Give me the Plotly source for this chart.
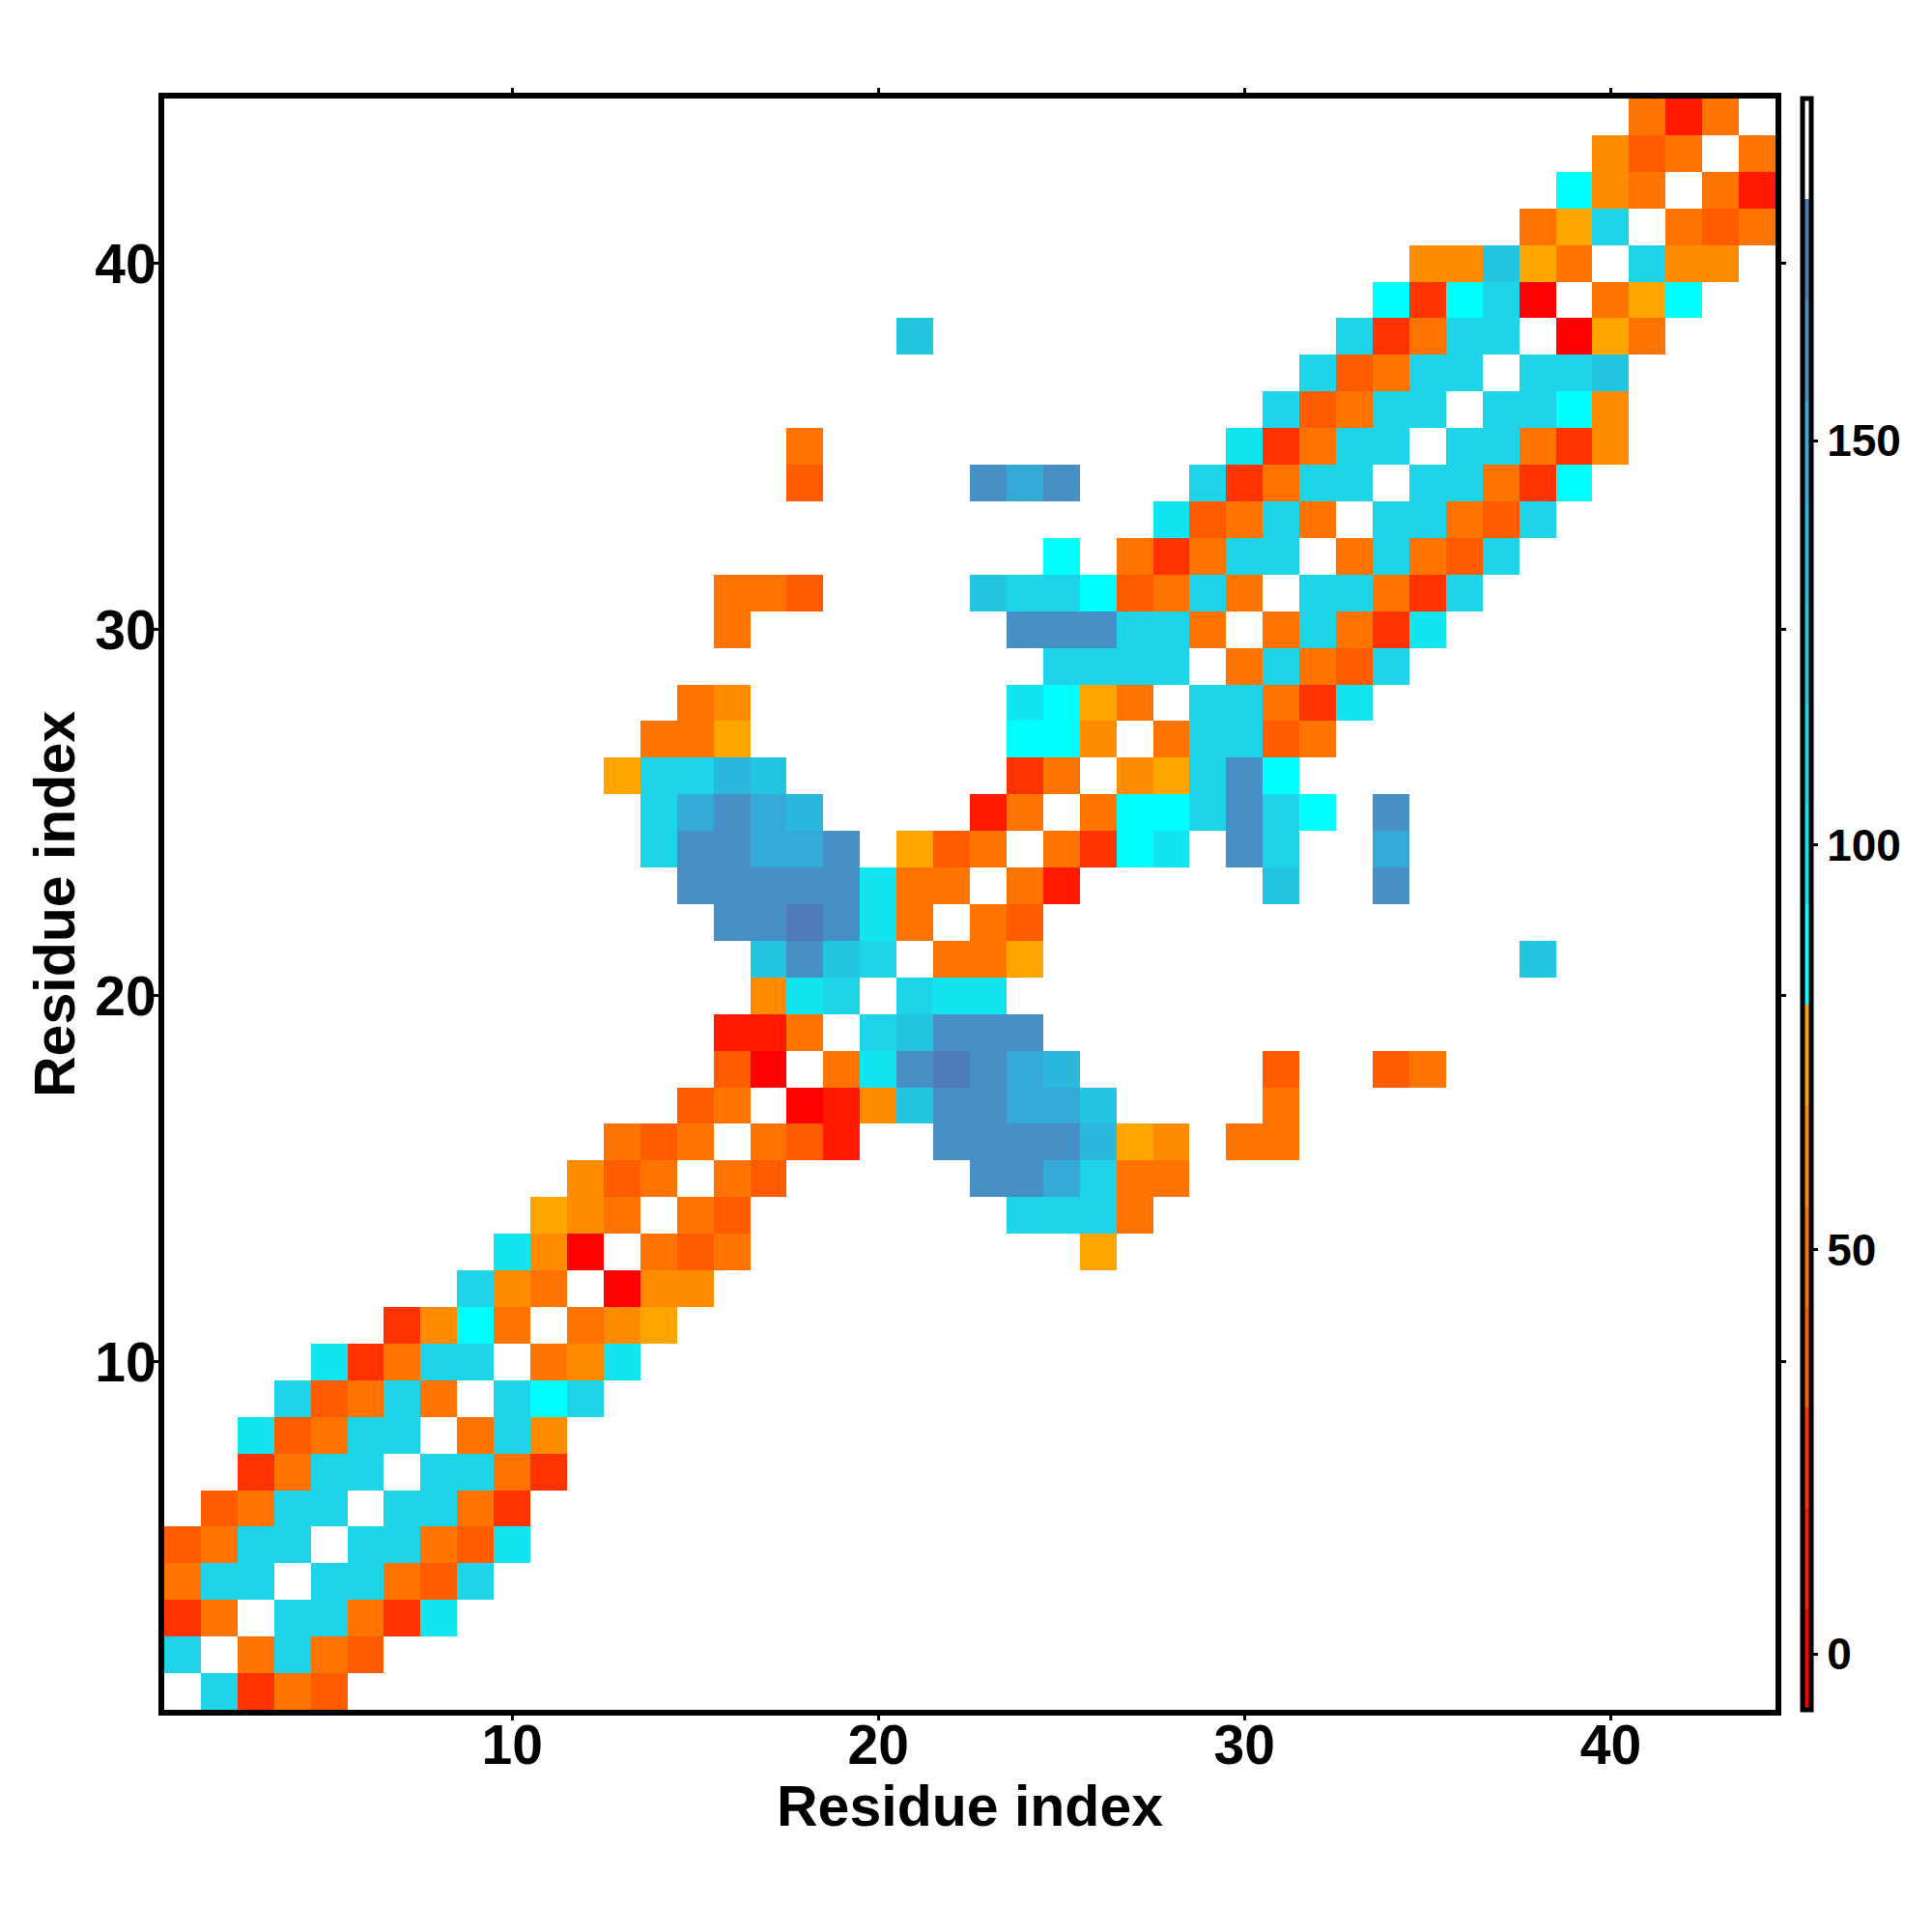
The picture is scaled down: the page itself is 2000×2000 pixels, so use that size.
import numpy as np
import plotly.graph_objects as go

# ---------------- data ----------------
residues = list(range(1, 45))
axis_ticks = [10, 20, 30, 40]
cbar_ticks = [0, 50, 100, 150]

# upper-triangle entries (matrix is symmetric); diagonal / absent pairs are empty
pair_i = [1, 1, 1, 1,
          2, 2, 2, 2,
          3, 3, 3, 3, 3,
          4, 4, 4, 4, 4,
          5, 5, 5, 5, 5,
          6, 6, 6, 6,
          7, 7, 7, 7,
          8, 8, 8,
          9, 9, 9,
          10, 10, 10,
          11, 11, 11,
          12, 12, 12,
          13, 13, 13, 13,
          14, 14, 14, 14, 14, 14,
          15, 15, 15, 15, 15, 15, 15, 15,
          16, 16, 16, 16, 16, 16, 16, 16, 16, 16, 16, 16,
          17, 17, 17, 17, 17, 17, 17, 17, 17, 17,
          18, 18, 18, 18, 18, 18, 18, 18, 18, 18,
          19, 19, 19, 19, 19,
          20, 20, 20,
          21, 21, 21, 21,
          22, 22,
          23, 23, 23, 23,
          24, 24, 24, 24, 24, 24, 24,
          25, 25, 25, 25, 25, 25, 25, 25,
          26, 26, 26, 26, 26,
          27, 27, 27, 27, 27,
          28, 28, 28, 28, 28,
          29, 29, 29, 29, 29,
          30, 30, 30, 30, 30,
          31, 31, 31, 31, 31,
          32, 32, 32, 32, 32,
          33, 33, 33, 33, 33,
          34, 34, 34, 34, 34,
          35, 35, 35, 35, 35,
          36, 36, 36, 36,
          37, 37, 37,
          38, 38, 38,
          39, 39, 39,
          40, 40, 40,
          41, 41, 41,
          42, 42,
          43]
pair_j = [2, 3, 4, 5,
          3, 4, 5, 6,
          4, 5, 6, 7, 8,
          5, 6, 7, 8, 9,
          6, 7, 8, 9, 10,
          7, 8, 9, 10,
          8, 9, 10, 11,
          9, 10, 11,
          10, 11, 12,
          11, 12, 13,
          12, 13, 14,
          13, 14, 15,
          14, 15, 16, 26,
          15, 16, 24, 25, 26, 27,
          16, 17, 23, 24, 25, 26, 27, 28,
          17, 18, 19, 22, 23, 24, 25, 26, 27, 28, 30, 31,
          18, 19, 20, 21, 22, 23, 24, 25, 26, 31,
          19, 20, 21, 22, 23, 24, 25, 31, 34, 35,
          20, 21, 22, 23, 24,
          21, 22, 23,
          22, 23, 24, 38,
          23, 24,
          24, 25, 31, 34,
          25, 26, 27, 28, 30, 31, 34,
          26, 27, 28, 29, 30, 31, 32, 34,
          27, 28, 29, 30, 31,
          28, 29, 30, 31, 32,
          29, 30, 31, 32, 33,
          30, 31, 32, 33, 34,
          31, 32, 33, 34, 35,
          32, 33, 34, 35, 36,
          33, 34, 35, 36, 37,
          34, 35, 36, 37, 38,
          35, 36, 37, 38, 39,
          36, 37, 38, 39, 40,
          37, 38, 39, 40,
          38, 39, 40,
          39, 40, 41,
          40, 41, 42,
          41, 42, 43,
          42, 43, 44,
          43, 44,
          44]
pair_val = [111, 24, 49, 37,
            49, 111, 49, 37,
            111, 111, 49, 24, 99,
            111, 111, 49, 37, 111,
            111, 111, 49, 37, 99,
            111, 111, 49, 24,
            111, 111, 49, 24,
            49, 111, 62,
            111, 87, 111,
            49, 62, 99,
            49, 62, 74,
            0, 62, 62,
            49, 37, 49, 74,
            49, 37, 111, 111, 111, 49,
            49, 37, 161, 161, 149, 111, 49, 49,
            49, 37, 12, 161, 161, 161, 161, 136, 74, 62, 49, 49,
            0, 12, 62, 124, 161, 161, 149, 149, 124, 49,
            49, 99, 161, 174, 161, 149, 136, 37, 37, 49,
            111, 124, 161, 161, 161,
            111, 99, 99,
            49, 49, 74, 124,
            49, 37,
            49, 12, 124, 161,
            49, 24, 87, 99, 161, 111, 149,
            49, 87, 87, 111, 161, 111, 87, 161,
            62, 74, 111, 161, 87,
            49, 111, 111, 37, 49,
            111, 111, 49, 24, 99,
            49, 111, 49, 37, 111,
            49, 111, 49, 24, 99,
            111, 111, 49, 24, 111,
            49, 111, 49, 37, 111,
            111, 111, 49, 37, 111,
            111, 111, 49, 24, 87,
            111, 111, 49, 24, 62,
            111, 111, 87, 62,
            111, 111, 124,
            0, 74, 49,
            49, 74, 87,
            111, 62, 62,
            49, 37, 49,
            49, 12,
            49]

z_min, z_max = -6.9, 192.3
band_colors = ["#ff0000", "#ff1a00", "#ff3300", "#ff5c00", "#ff7400", "#ff8c00",
               "#ffa500", "#00ffff", "#12e4f0", "#1dd4e8", "#22c6e0", "#2cb8dc",
               "#36aad6", "#4790c6", "#4f7bb8", "#ffffff"]

# ---------------- build ----------------
n = len(residues)
z = np.full((n, n), np.nan)
for a, b, v in zip(pair_i, pair_j, pair_val):
    z[a - 1, b - 1] = v
    z[b - 1, a - 1] = v

nb = len(band_colors)
colorscale = []
for k, c in enumerate(band_colors):
    colorscale.append([k / nb, c])
    colorscale.append([(k + 1) / nb, c])

FONT = "Liberation Sans"
W, H = 2000, 2000
# page body adds an 8px offset, compensated here
ml, mr, mt, mb = 162, 170, 94, 238
pw = W - ml - mr
ph = H - mt - mb

fig = go.Figure(go.Heatmap(
    x=residues, y=residues, z=z,
    zmin=z_min, zmax=z_max, colorscale=colorscale,
    hoverongaps=False,
    colorbar=dict(
        thickness=9, thicknessmode="pixels",
        len=1, lenmode="fraction", y=0.5, yanchor="middle",
        x=1 + 28 / pw, xanchor="left", xpad=0, ypad=0,
        outlinewidth=5, outlinecolor="black",
        tickvals=cbar_ticks, ticks="outside", ticklen=5, tickwidth=3,
        tickcolor="black",
        tickfont=dict(family=FONT, size=46, color="black", weight="bold"),
    ),
))

axis_common = dict(
    range=[0.5, 44.5], tickvals=axis_ticks, ticks="outside", ticklen=5,
    tickwidth=3, tickcolor="black", showline=True, linewidth=6,
    linecolor="black", mirror="ticks", showgrid=False, zeroline=False,
    tickfont=dict(family=FONT, size=57, color="black", weight="bold"),
)

title_font = dict(family=FONT, size=59, color="black", weight="bold")

fig.update_layout(
    width=W, height=H,
    margin=dict(l=ml, r=mr, t=mt, b=mb, autoexpand=False),
    paper_bgcolor="white", plot_bgcolor="white",
    xaxis=dict(**axis_common, ticklabelstandoff=-23),
    yaxis=dict(**axis_common, ticklabelstandoff=-14,
               title=dict(text="Residue index", standoff=4, font=title_font)),
    annotations=[dict(text="Residue index", xref="paper", yref="paper",
                      x=0.5, y=-100 / ph, xanchor="center", yanchor="middle",
                      showarrow=False, font=title_font)],
)

fig.write_html("out.html")
